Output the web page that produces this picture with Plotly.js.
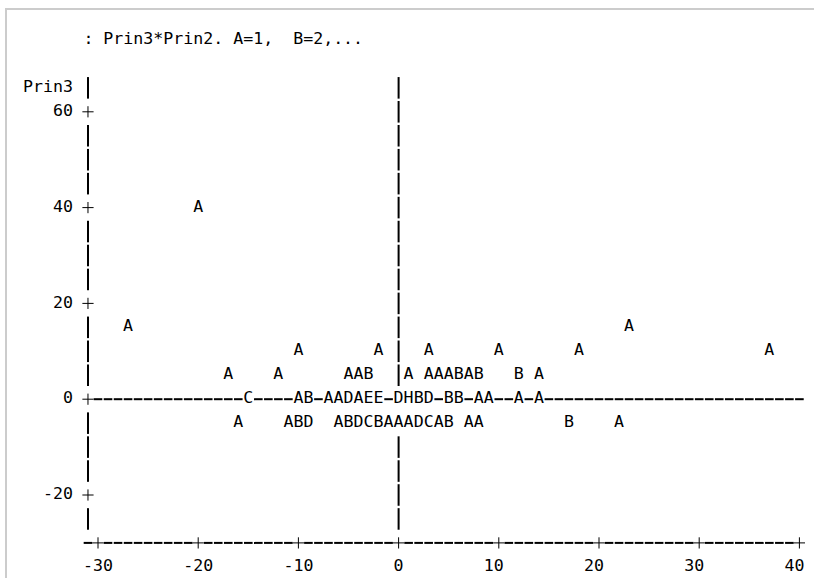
<!DOCTYPE html>
<html><head><meta charset="utf-8">
<script src="https://cdn.plot.ly/plotly-3.0.1.min.js"></script>
<style>html,body{margin:0;padding:0;background:#fff}</style>
</head><body><div id="chart" style="width:814px;height:578px"></div>
<script>
// ---- data (Prin2 column, Prin3 row, plotting symbol: A=1 obs, B=2 obs, ...) ----
const prin2 = [
  -20,
  -27, 23,
  -10, -2, 3, 10, 18, 37,
  -17, -12, -5, -4, -3, 1, 3, 4, 5, 6, 7, 8, 12, 14,
  -15, -10, -9, -7, -6, -5, -4, -3, -2, 0, 1, 2, 3, 5, 6, 8, 9, 12, 14,
  -16, -11, -10, -9, -6, -5, -4, -3, -2, -1, 0, 1, 2, 3, 4, 5, 7, 8, 17, 22
];
const prin3 = [
  40,
  15, 15,
  10, 10, 10, 10, 10, 10,
  5, 5, 5, 5, 5, 5, 5, 5, 5, 5, 5, 5, 5, 5,
  0, 0, 0, 0, 0, 0, 0, 0, 0, 0, 0, 0, 0, 0, 0, 0, 0, 0, 0,
  -5, -5, -5, -5, -5, -5, -5, -5, -5, -5, -5, -5, -5, -5, -5, -5, -5, -5, -5, -5
];
const symbols = [
  'A',
  'A', 'A',
  'A', 'A', 'A', 'A', 'A', 'A',
  'A', 'A', 'A', 'A', 'B', 'A', 'A', 'A', 'A', 'B', 'A', 'B', 'B', 'A',
  'C', 'A', 'B', 'A', 'A', 'D', 'A', 'E', 'E', 'D', 'H', 'B', 'D', 'B', 'B', 'A', 'A', 'A', 'A',
  'A', 'A', 'B', 'D', 'A', 'B', 'D', 'C', 'B', 'A', 'A', 'A', 'D', 'C', 'A', 'B', 'A', 'A', 'B', 'A'
];
const xTicks = [-30, -20, -10, 0, 10, 20, 30, 40];
const xTickLabels = ['-30', '-20', '-10', '0', '10', '20', '30', '40'];
const yTicks = [60, 40, 20, 0, -20];
const yTickLabels = ['60', '40', '20', '0', '-20'];
const yAxisLabel = 'Prin3';
const titleText = ': Prin3*Prin2. A=1,  B=2,...';

// ---- line-printer grid layout ----
const W = 814, H = 578;
const COL_PX = 10.02, X0_PX = 398.6;   // px per Prin2 unit, px of Prin2=0
const ROW_PX = 4.79, Y0_PX = 399.2;    // px per Prin3 unit, px of Prin3=0
const ROW_STEP = 5;
const AXIS_COL = -31, XMAX_COL = 40;
const YTOP = 65, YBOT = -30;
const FONT = {family: '"DejaVu Sans Mono", "Liberation Mono", monospace', size: 16.6, color: '#000'};

const occupied = new Set(prin2.map((x, i) => x + ',' + prin3[i]));
const vx = [], vy = [], hx = [], hy = [];
function vbar(c, r) { vx.push(c, c, null); vy.push(r - 2.25, r + 2.25, null); }
function hbar(c, r) { hx.push(c - 0.43, c + 0.43, null); hy.push(r, r, null); }

for (let r = YTOP; r > YBOT; r -= ROW_STEP) {
  if (!yTicks.includes(r)) vbar(AXIS_COL, r);
  if (!occupied.has('0,' + r)) vbar(0, r);
}
for (let c = AXIS_COL + 1; c <= XMAX_COL; c++) {
  if (!occupied.has(c + ',0')) hbar(c, 0);
}
for (let c = AXIS_COL; c <= XMAX_COL; c++) {
  if (!xTicks.includes(c)) hbar(c, YBOT);
}

const plusX = yTicks.map(() => AXIS_COL).concat(xTicks);
const plusY = yTicks.concat(xTicks.map(() => YBOT));

// right-aligned y labels ending at column AXIS_COL-2
const yLabTexts = yTickLabels.concat([yAxisLabel]);
const yLabRows = yTicks.concat([YTOP]);
const yLabX = yLabTexts.map(s => (AXIS_COL - 2) - (s.length - 1) / 2);
// x labels centred on the tick column
const xLabX = xTickLabels.map((s, i) => xTicks[i] - Math.ceil((s.length - 1) / 2) + (s.length - 1) / 2);

const traces = [
  {type: 'scatter', mode: 'lines', x: vx, y: vy, line: {color: '#000', width: 2}, hoverinfo: 'skip'},
  {type: 'scatter', mode: 'lines', x: hx, y: hy, line: {color: '#000', width: 2}, hoverinfo: 'skip'},
  {type: 'scatter', mode: 'markers', x: plusX, y: plusY,
   marker: {symbol: 'cross-thin-open', size: 8, color: '#000', line: {color: '#000', width: 1}}, hoverinfo: 'skip'},
  {type: 'scatter', mode: 'text', x: prin2, y: prin3, text: symbols,
   textposition: 'middle center', textfont: FONT, hoverinfo: 'skip'},
  {type: 'scatter', mode: 'text', x: yLabX, y: yLabRows, text: yLabTexts,
   textposition: 'middle center', textfont: FONT, hoverinfo: 'skip'},
  {type: 'scatter', mode: 'text', x: xLabX, y: xTicks.map(() => YBOT - ROW_STEP), text: xTickLabels,
   textposition: 'middle center', textfont: FONT, hoverinfo: 'skip'},
  {type: 'scatter', mode: 'text', x: [AXIS_COL + (titleText.length - 1) / 2], y: [YTOP + 2 * ROW_STEP], text: [titleText],
   textposition: 'middle center', textfont: FONT, hoverinfo: 'skip'}
];

const layout = {
  width: W, height: H, autosize: false,
  margin: {l: 0, r: 0, t: 0, b: 0, pad: 0},
  paper_bgcolor: '#fff', plot_bgcolor: '#fff',
  showlegend: false,
  xaxis: {range: [(0 - X0_PX) / COL_PX, (W - X0_PX) / COL_PX], visible: false, fixedrange: true},
  yaxis: {range: [(Y0_PX - H) / ROW_PX, Y0_PX / ROW_PX], visible: false, fixedrange: true},
  shapes: [
    {type: 'line', xref: 'paper', yref: 'paper', x0: 6 / W, x1: 6 / W, y0: 0, y1: 1 - 8 / H, line: {color: '#cccccc', width: 2}},
    {type: 'line', xref: 'paper', yref: 'paper', x0: 5 / W, x1: 1, y0: 1 - 9 / H, y1: 1 - 9 / H, line: {color: '#cccccc', width: 2}}
  ]
};
Plotly.newPlot('chart', traces, layout, {staticPlot: true, displayModeBar: false});
</script></body></html>
